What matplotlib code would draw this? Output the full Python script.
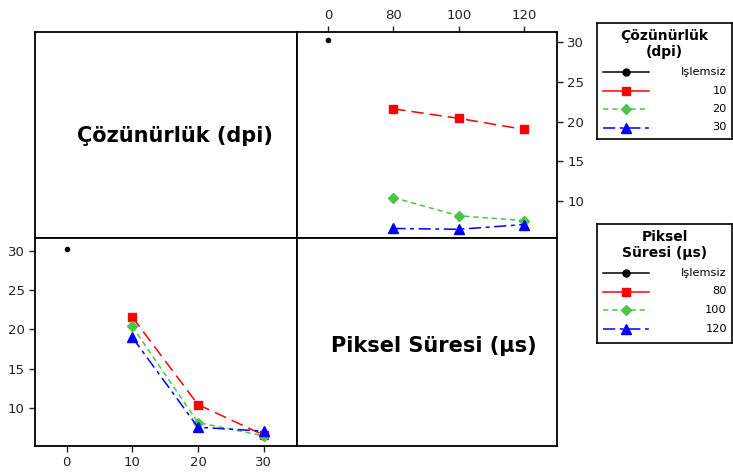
import matplotlib
matplotlib.use("Agg")
import matplotlib.pyplot as plt
from matplotlib.lines import Line2D

# cell means: rows = resolution (dpi), cols = pixel time (us)
dpi_levels = [10, 20, 30]
us_levels = [80, 100, 120]
means = [[21.6, 20.4, 19.0],
         [10.4, 8.1, 7.5],
         [6.5, 6.4, 7.0]]
untreated = 30.3
dpi_ticks = ["0", "10", "20", "30"]
us_ticks = ["0", "80", "100", "120"]

colors = ["red", "#4cc44c", "blue"]
markers = ["s", "D", "^"]
dashes = [(8, 4), (3.5, 2.5), (8, 3, 2.5, 3)]
msizes = [5.5, 5, 6.5]

W, H = 733, 472
fig = plt.figure(figsize=(W / 100, H / 100), dpi=100)


def px_axes(x0, y0, x1, y1):
    return fig.add_axes([x0 / W, 1 - y1 / H, (x1 - x0) / W, (y1 - y0) / H])


L, R, T, B = 35, 557, 32, 446
MX, MY = 296.5, 238
xlim = (-0.48, 3.5)

ax_tl = px_axes(L, T, MX, MY)
ax_tr = px_axes(MX, T, R, MY)
ax_bl = px_axes(L, MY, MX, B)
ax_br = px_axes(MX, MY, R, B)

for ax in (ax_tl, ax_tr, ax_bl, ax_br):
    ax.set_xlim(*xlim)
    for s in ax.spines.values():
        s.set_linewidth(1.3)
    ax.tick_params(labelsize=9.5, length=4, width=1, direction="out", colors="#222222")
ax_tr.set_ylim(5.3, 31.3)
ax_bl.set_ylim(5.1, 31.7)

for ax in (ax_tl, ax_br):
    ax.set_xticks([])
    ax.set_yticks([])

# factor names on the diagonal panels
fig.text(175 / W, 1 - 136 / H, "Çözünürlük (dpi)", ha="center", va="center",
         fontsize=15, fontweight="bold")
fig.text(434 / W, 1 - 346 / H, "Piksel Süresi (µs)", ha="center", va="center",
         fontsize=15, fontweight="bold")

# top right: pixel time on x, one line per resolution
ax_tr.plot([0], [untreated], "o", color="black", ms=3)
for i in range(3):
    ax_tr.plot([1, 2, 3], means[i], color=colors[i], marker=markers[i],
               ms=msizes[i], lw=1.1, dashes=dashes[i])
ax_tr.set_xticks(range(4))
ax_tr.set_xticklabels(us_ticks)
ax_tr.xaxis.tick_top()
ax_tr.yaxis.tick_right()
ax_tr.set_yticks([10, 15, 20, 25, 30])

# bottom left: resolution on x, one line per pixel time
ax_bl.plot([0], [untreated], "o", color="black", ms=3)
for j in range(3):
    col = [means[i][j] for i in range(3)]
    ax_bl.plot([1, 2, 3], col, color=colors[j], marker=markers[j],
               ms=msizes[j], lw=1.1, dashes=dashes[j])
ax_bl.set_xticks(range(4))
ax_bl.set_xticklabels(dpi_ticks)
ax_bl.set_yticks([10, 15, 20, 25, 30])


def legend_box(x0, y0, x1, y1, title, labels):
    lg = px_axes(x0, y0, x1, y1)
    lg.set_xlim(x0, x1)
    lg.set_ylim(y1, y0)
    lg.set_xticks([])
    lg.set_yticks([])
    for s in lg.spines.values():
        s.set_linewidth(1.2)
    cx = (x0 + x1) / 2
    lg.text(cx, y0 + 21, title, ha="center", va="center", fontsize=10,
            fontweight="bold", linespacing=1.2)
    rows = [y0 + 49, y0 + 67.5, y0 + 86, y0 + 104.5]
    styles = [("black", "o", None, 5)] + [(colors[k], markers[k], dashes[k], msizes[k])
                                          for k in range(3)]
    for (c, m, d, ms), lab, yy in zip(styles, labels, rows):
        ln = Line2D([x0 + 6, x0 + 52], [yy, yy], color=c, lw=1.1)
        if d is not None and c != "red":
            ln.set_dashes(d)
        lg.add_line(ln)
        lg.plot([x0 + 29], [yy], marker=m, color=c, ms=ms)
        lg.text(x1 - 5, yy, lab, ha="right", va="center", fontsize=8.2)


legend_box(597, 23, 732, 139, "Çözünürlük\n(dpi)", ["Işlemsiz", "10", "20", "30"])
legend_box(597, 224, 732, 343, "Piksel\nSüresi (µs)", ["Işlemsiz", "80", "100", "120"])

fig.savefig("out.png", dpi=100)
